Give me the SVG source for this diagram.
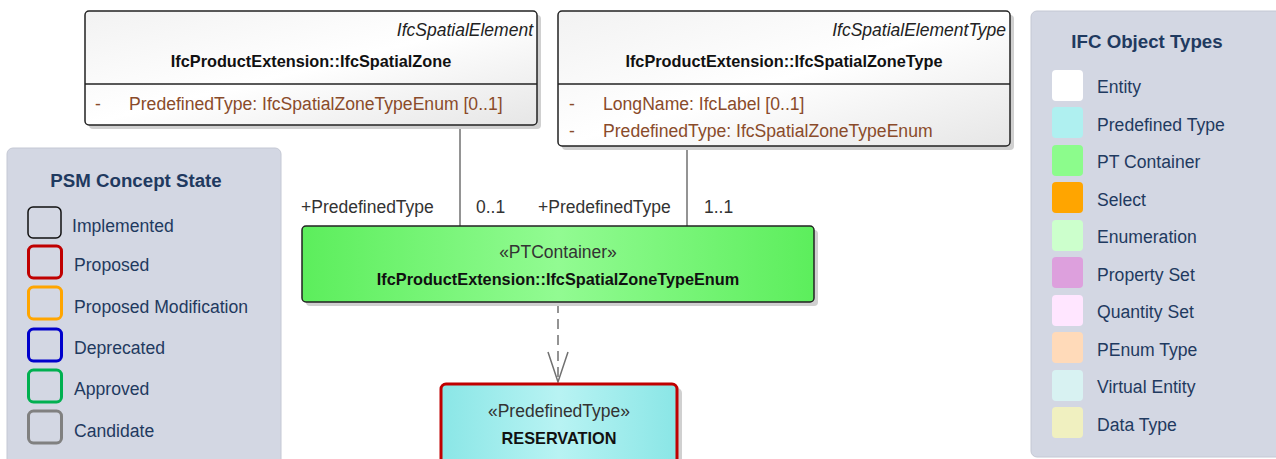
<svg xmlns="http://www.w3.org/2000/svg" width="1276" height="459" viewBox="0 0 1276 459">
<defs>
<linearGradient id="gGray" x1="0" y1="0" x2="1" y2="1">
<stop offset="0" stop-color="#f2f2f2"/><stop offset="0.5" stop-color="#ffffff"/><stop offset="1" stop-color="#e6e6e6"/>
</linearGradient>
<linearGradient id="gGreen" x1="0" y1="0" x2="1" y2="0">
<stop offset="0" stop-color="#5cee5c"/><stop offset="0.5" stop-color="#92fb92"/><stop offset="1" stop-color="#5cee5c"/>
</linearGradient>
<linearGradient id="gCyan" x1="0" y1="0" x2="1" y2="0">
<stop offset="0" stop-color="#8ae6e6"/><stop offset="0.5" stop-color="#b8f3f3"/><stop offset="1" stop-color="#8ae6e6"/>
</linearGradient>
</defs>
<style>
text{font-family:"Liberation Sans",Arial,sans-serif;}
.shadow{fill:#d0d0d0;}
.cls{fill:url(#gGray);stroke:#222;stroke-width:1.5;}
.ital{font-style:italic;font-size:17.5px;fill:#222;}
.title{font-weight:bold;font-size:16.3px;fill:#111;}
.attr{font-size:17.6px;fill:#8a4b2a;}
.lbl{font-size:17.5px;fill:#333;}
.legend{fill:#d3d7e3;stroke:#c4c8d4;stroke-width:1;}
.lt{font-weight:bold;font-size:18.7px;fill:#1f3a60;}
.li{font-size:17.6px;fill:#1f3a60;}
.conn{stroke:#707070;stroke-width:1.5;fill:none;}
</style>

<g id="legend-psm">
<rect class="legend" x="7" y="148" width="274" height="320" rx="6"/>
<text class="lt" x="136" y="187" text-anchor="middle">PSM Concept State</text>
<rect x="28" y="207" width="33" height="31" rx="5" fill="none" stroke="#111" stroke-width="1.5"/>
<text class="li" x="72" y="232">Implemented</text>
<rect x="28.5" y="246" width="33" height="32" rx="5" fill="none" stroke="#c00000" stroke-width="3"/>
<text class="li" x="74" y="271">Proposed</text>
<rect x="28.5" y="287" width="33" height="32" rx="5" fill="none" stroke="#ffa500" stroke-width="3"/>
<text class="li" x="74" y="313">Proposed Modification</text>
<rect x="28.5" y="329" width="33" height="32" rx="5" fill="none" stroke="#0000cc" stroke-width="3"/>
<text class="li" x="74" y="354">Deprecated</text>
<rect x="28.5" y="370" width="33" height="32" rx="5" fill="none" stroke="#00b050" stroke-width="3"/>
<text class="li" x="74" y="395">Approved</text>
<rect x="28.5" y="411" width="33" height="32" rx="5" fill="none" stroke="#808080" stroke-width="3"/>
<text class="li" x="74" y="437">Candidate</text>
</g>

<g id="legend-ifc">
<rect class="legend" x="1031" y="11" width="254" height="446" rx="6"/>
<text class="lt" x="1147" y="48" text-anchor="middle">IFC Object Types</text>
<rect x="1052" y="70" width="31" height="31" rx="4" fill="#ffffff"/>
<text class="li" x="1097" y="93">Entity</text>
<rect x="1052" y="107" width="31" height="31" rx="4" fill="#aff0f0"/>
<text class="li" x="1097" y="131">Predefined Type</text>
<rect x="1052" y="145" width="31" height="31" rx="4" fill="#8cfc8c"/>
<text class="li" x="1097" y="168">PT Container</text>
<rect x="1052" y="182" width="31" height="31" rx="4" fill="#ffa500"/>
<text class="li" x="1097" y="206">Select</text>
<rect x="1052" y="220" width="31" height="31" rx="4" fill="#ccffcc"/>
<text class="li" x="1097" y="243">Enumeration</text>
<rect x="1052" y="257" width="31" height="31" rx="4" fill="#dda0dd"/>
<text class="li" x="1097" y="281">Property Set</text>
<rect x="1052" y="295" width="31" height="31" rx="4" fill="#ffe6ff"/>
<text class="li" x="1097" y="318">Quantity Set</text>
<rect x="1052" y="332" width="31" height="31" rx="4" fill="#ffdab9"/>
<text class="li" x="1097" y="356">PEnum Type</text>
<rect x="1052" y="370" width="31" height="31" rx="4" fill="#d8f2f2"/>
<text class="li" x="1097" y="393">Virtual Entity</text>
<rect x="1052" y="407" width="31" height="31" rx="4" fill="#f0f0c0"/>
<text class="li" x="1097" y="431">Data Type</text>
</g>

<g id="connectors">
<line class="conn" x1="460" y1="125" x2="460" y2="226"/>
<line class="conn" x1="687" y1="146" x2="687" y2="226"/>
<line class="conn" x1="558" y1="303" x2="558" y2="380" stroke-dasharray="10,6"/>
<path class="conn" d="M548 352 L558 382 L568 352"/>
<text class="lbl" x="301" y="213">+PredefinedType</text>
<text class="lbl" x="476" y="213">0..1</text>
<text class="lbl" x="538" y="213">+PredefinedType</text>
<text class="lbl" x="704" y="213">1..1</text>
</g>

<g id="node-spatialzone">
<rect class="shadow" x="89" y="15" width="452" height="114" rx="4"/>
<rect class="cls" x="85" y="11" width="452" height="114" rx="4"/>
<line x1="85" y1="84" x2="537" y2="84" stroke="#222" stroke-width="1.5"/>
<text class="ital" x="533" y="36" text-anchor="end">IfcSpatialElement</text>
<text class="title" x="311" y="67" text-anchor="middle">IfcProductExtension::IfcSpatialZone</text>
<text class="attr" x="95" y="110">-</text>
<text class="attr" x="129" y="110">PredefinedType: IfcSpatialZoneTypeEnum [0..1]</text>
</g>

<g id="node-spatialzonetype">
<rect class="shadow" x="562" y="15" width="452" height="135" rx="4"/>
<rect class="cls" x="558" y="11" width="452" height="135" rx="4"/>
<line x1="558" y1="84" x2="1010" y2="84" stroke="#222" stroke-width="1.5"/>
<text class="ital" x="1006" y="36" text-anchor="end">IfcSpatialElementType</text>
<text class="title" x="784" y="67" text-anchor="middle">IfcProductExtension::IfcSpatialZoneType</text>
<text class="attr" x="569" y="110">-</text>
<text class="attr" x="603" y="110">LongName: IfcLabel [0..1]</text>
<text class="attr" x="569" y="137">-</text>
<text class="attr" x="603" y="137">PredefinedType: IfcSpatialZoneTypeEnum</text>
</g>

<g id="node-enum">
<rect class="shadow" x="306" y="230" width="512" height="76" rx="4"/>
<rect x="302" y="226" width="512" height="76" rx="4" fill="url(#gGreen)" stroke="#222" stroke-width="1.5"/>
<text class="lbl" x="558" y="258" text-anchor="middle" fill="#111">«PTContainer»</text>
<text class="title" x="558" y="285" text-anchor="middle">IfcProductExtension::IfcSpatialZoneTypeEnum</text>
</g>

<g id="node-reservation">
<rect class="shadow" x="445" y="388" width="237" height="80" rx="5"/>
<rect x="441" y="384" width="236" height="80" rx="5" fill="url(#gCyan)" stroke="#c00000" stroke-width="3"/>
<text class="lbl" x="559" y="417" text-anchor="middle" fill="#111">«PredefinedType»</text>
<text class="title" x="559" y="444" text-anchor="middle">RESERVATION</text>
</g>
</svg>
